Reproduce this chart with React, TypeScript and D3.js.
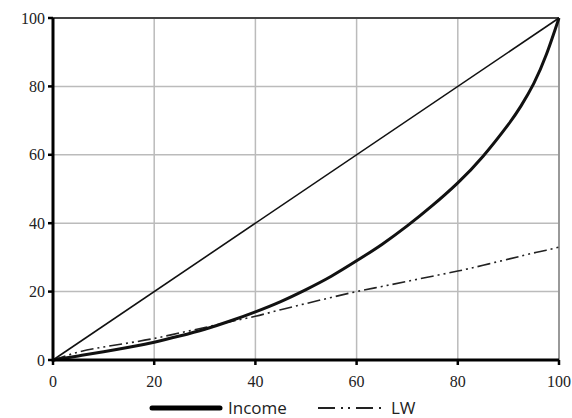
import React from 'react';
import * as d3 from 'd3';

// population share (%)
const xs = [0, 5, 10, 15, 20, 25, 30, 35, 40, 45, 50, 55, 60, 65, 70, 75, 80, 85, 90, 92.5, 95, 97.5, 100];
// cumulative income share
const income = [0, 1.2, 2.4, 3.7, 5.2, 7, 9, 11.4, 14.1, 17.1, 20.6, 24.5, 29, 33.8, 39.2, 45.2, 51.8, 59.6, 68.9, 74.3, 80.8, 89.3, 100];
// cumulative LW share
const lw = [0, 2.3, 3.8, 5, 6.3, 7.9, 9.5, 11.2, 12.8, 14.7, 16.5, 18.3, 20, 21.5, 23, 24.5, 26, 27.7, 29.5, 30.4, 31.3, 32.1, 33];
const ticks = [0, 20, 40, 60, 80, 100];

const W = 572, H = 418;
const margin = { top: 18, right: 13, bottom: 58, left: 53 };

export default function App() {
  const x = d3.scaleLinear().domain([0, 100]).range([margin.left, W - margin.right]);
  const y = d3.scaleLinear().domain([0, 100]).range([H - margin.bottom, margin.top]);
  const line = d3.line<number>().x((_, i) => x(xs[i])).y(d => y(d)).curve(d3.curveNatural);
  const diag = d3.line<number>().x(d => x(d)).y(d => y(d));
  const serif = "'Liberation Serif', 'Times New Roman', Times, 'DejaVu Serif', serif";
  const sans = "'Open Sans', 'DejaVu Sans', sans-serif";
  const lwDash = '13,4,2,4,2,4';

  return (
    <svg width={W} height={H} style={{ position: 'absolute', left: 0, top: 0 }}>
      <rect width={W} height={H} fill="#fff" />
      {ticks.map(t => (
        <g key={'g' + t}>
          <line x1={x(t)} x2={x(t)} y1={y(0)} y2={y(100)} stroke="#bbb" strokeWidth={1.5} />
          <line x1={x(0)} x2={x(100)} y1={y(t)} y2={y(t)} stroke="#bbb" strokeWidth={1.5} />
        </g>
      ))}
      <line x1={x(0)} x2={x(100)} y1={y(100)} y2={y(100)} stroke="#444" strokeWidth={2} />
      <line x1={x(100)} x2={x(100)} y1={y(0)} y2={y(100)} stroke="#888" strokeWidth={1.5} />
      <path d={diag([0, 100])!} fill="none" stroke="#111" strokeWidth={1.6} />
      <path d={line(lw)!} fill="none" stroke="#222" strokeWidth={1.6} strokeDasharray={lwDash} />
      <path d={line(income)!} fill="none" stroke="#111" strokeWidth={3} />
      <line x1={x(0)} x2={x(0)} y1={y(0) + 1.5} y2={y(100)} stroke="#000" strokeWidth={3} />
      <line x1={x(0)} x2={x(100)} y1={y(0)} y2={y(0)} stroke="#000" strokeWidth={3} />
      {ticks.map(t => (
        <g key={'t' + t}>
          <line x1={x(0) - 5} x2={x(0)} y1={y(t)} y2={y(t)} stroke="#000" strokeWidth={2.5} />
          <line x1={x(t)} x2={x(t)} y1={y(0)} y2={y(0) + 5} stroke="#000" strokeWidth={2.5} />
          <text x={x(0) - 8} y={y(t)} dy="0.35em" textAnchor="end" style={{ fontFamily: serif, fontSize: 16 }} fill="#222">{t}</text>
          <text x={x(t)} y={y(0) + 27} textAnchor="middle" style={{ fontFamily: serif, fontSize: 16 }} fill="#222">{t}</text>
        </g>
      ))}
      <g>
        <line x1={152} x2={220} y1={408} y2={408} stroke="#000" strokeWidth={5} strokeLinecap="round" />
        <text x={228} y={414} style={{ fontFamily: sans, fontSize: 17 }} fill="#222">Income</text>
        <line x1={318} x2={381} y1={408} y2={408} stroke="#222" strokeWidth={1.8} strokeDasharray="17,6,2,5,2,6" />
        <text x={391} y={414} style={{ fontFamily: sans, fontSize: 17 }} fill="#222">LW</text>
      </g>
    </svg>
  );
}
